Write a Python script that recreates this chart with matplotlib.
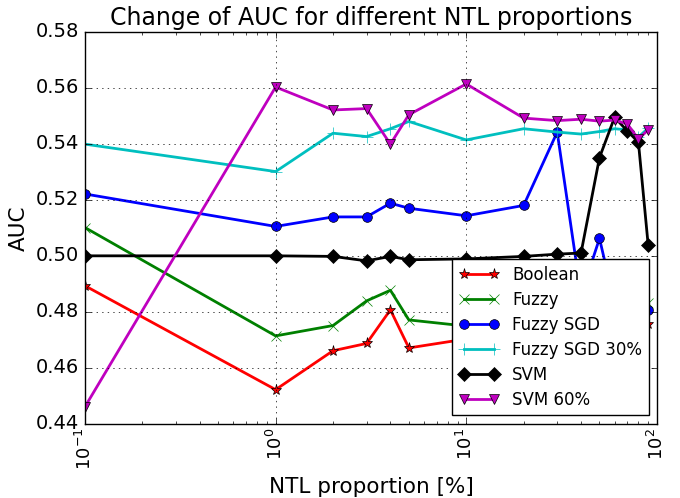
#!/usr/bin/env python3
"""
Change of AUC for different NTL proportions (log x axis, classic style).
"""
import matplotlib
matplotlib.use('Agg')
import matplotlib.pyplot as plt

# NTL proportion in percent
ntl = [0.1, 1, 2, 3, 4, 5, 10, 20, 30, 40, 50, 60, 70, 80, 90]

auc_boolean = [0.4893, 0.4522, 0.4661, 0.4687, 0.4807, 0.4671, 0.4703, 0.4712,
               0.4725, 0.4718, 0.4736, 0.4748, 0.4742, 0.4751, 0.4757]
auc_fuzzy = [0.5101, 0.4714, 0.4751, 0.4839, 0.4877, 0.4771, 0.4749, 0.4762,
             0.4781, 0.4772, 0.4793, 0.4804, 0.4812, 0.4820, 0.4832]
auc_fuzzy_sgd = [0.5221, 0.5105, 0.5139, 0.5139, 0.5188, 0.5170, 0.5143, 0.5180,
                 0.5442, 0.4860, 0.5062, 0.4830, 0.4820, 0.4810, 0.4807]
auc_fuzzy_sgd_30 = [0.5399, 0.5301, 0.5438, 0.5426, 0.5454, 0.5480, 0.5414, 0.5454,
                    0.5442, 0.5435, 0.5444, 0.5454, 0.5450, 0.5424, 0.5456]
auc_svm = [0.5000, 0.5000, 0.4998, 0.4982, 0.4998, 0.4986, 0.4989, 0.4998,
           0.5006, 0.5010, 0.5351, 0.5495, 0.5446, 0.5406, 0.5039]
auc_svm_60 = [0.4461, 0.5603, 0.5521, 0.5526, 0.5399, 0.5504, 0.5614, 0.5492,
              0.5483, 0.5488, 0.5481, 0.5485, 0.5471, 0.5417, 0.5450]

series = [
    ('Boolean', auc_boolean, 'r', '*', 8),
    ('Fuzzy', auc_fuzzy, 'g', 'x', 7),
    ('Fuzzy SGD', auc_fuzzy_sgd, 'b', 'o', 7),
    ('Fuzzy SGD 30%', auc_fuzzy_sgd_30, 'c', '+', 8),
    ('SVM', auc_svm, 'k', 'D', 7),
    ('SVM 60%', auc_svm_60, 'm', 'v', 7),
]

plt.style.use('classic')
plt.rcParams['mathtext.fontset'] = 'dejavusans'

fig = plt.figure(figsize=(6.8, 4.98), dpi=100)
ax = fig.add_axes([0.125, 0.149, 0.841, 0.787])

for label, vals, color, marker, ms in series:
    ax.plot(ntl, vals, color=color, marker=marker, markersize=ms,
            linewidth=2, label=label)

ax.set_xscale('log')
ax.set_xlim(0.1, 100)
ax.set_ylim(0.44, 0.58)
ax.grid(True)
ax.tick_params(axis='y', labelsize=14)
ax.tick_params(axis='x', labelsize=13, pad=3)
for t in ax.get_xticklabels():
    t.set_rotation(90)
ax.set_xlabel('NTL proportion [%]', fontsize=15.5, labelpad=5)
ax.set_ylabel('AUC', fontsize=15.5)
ax.set_title('Change of AUC for different NTL proportions', fontsize=17)
ax.legend(loc='lower right', fontsize=12, numpoints=2, handlelength=2.4,
          labelspacing=0.42)

plt.savefig('out.png', dpi=100)
plt.close()
